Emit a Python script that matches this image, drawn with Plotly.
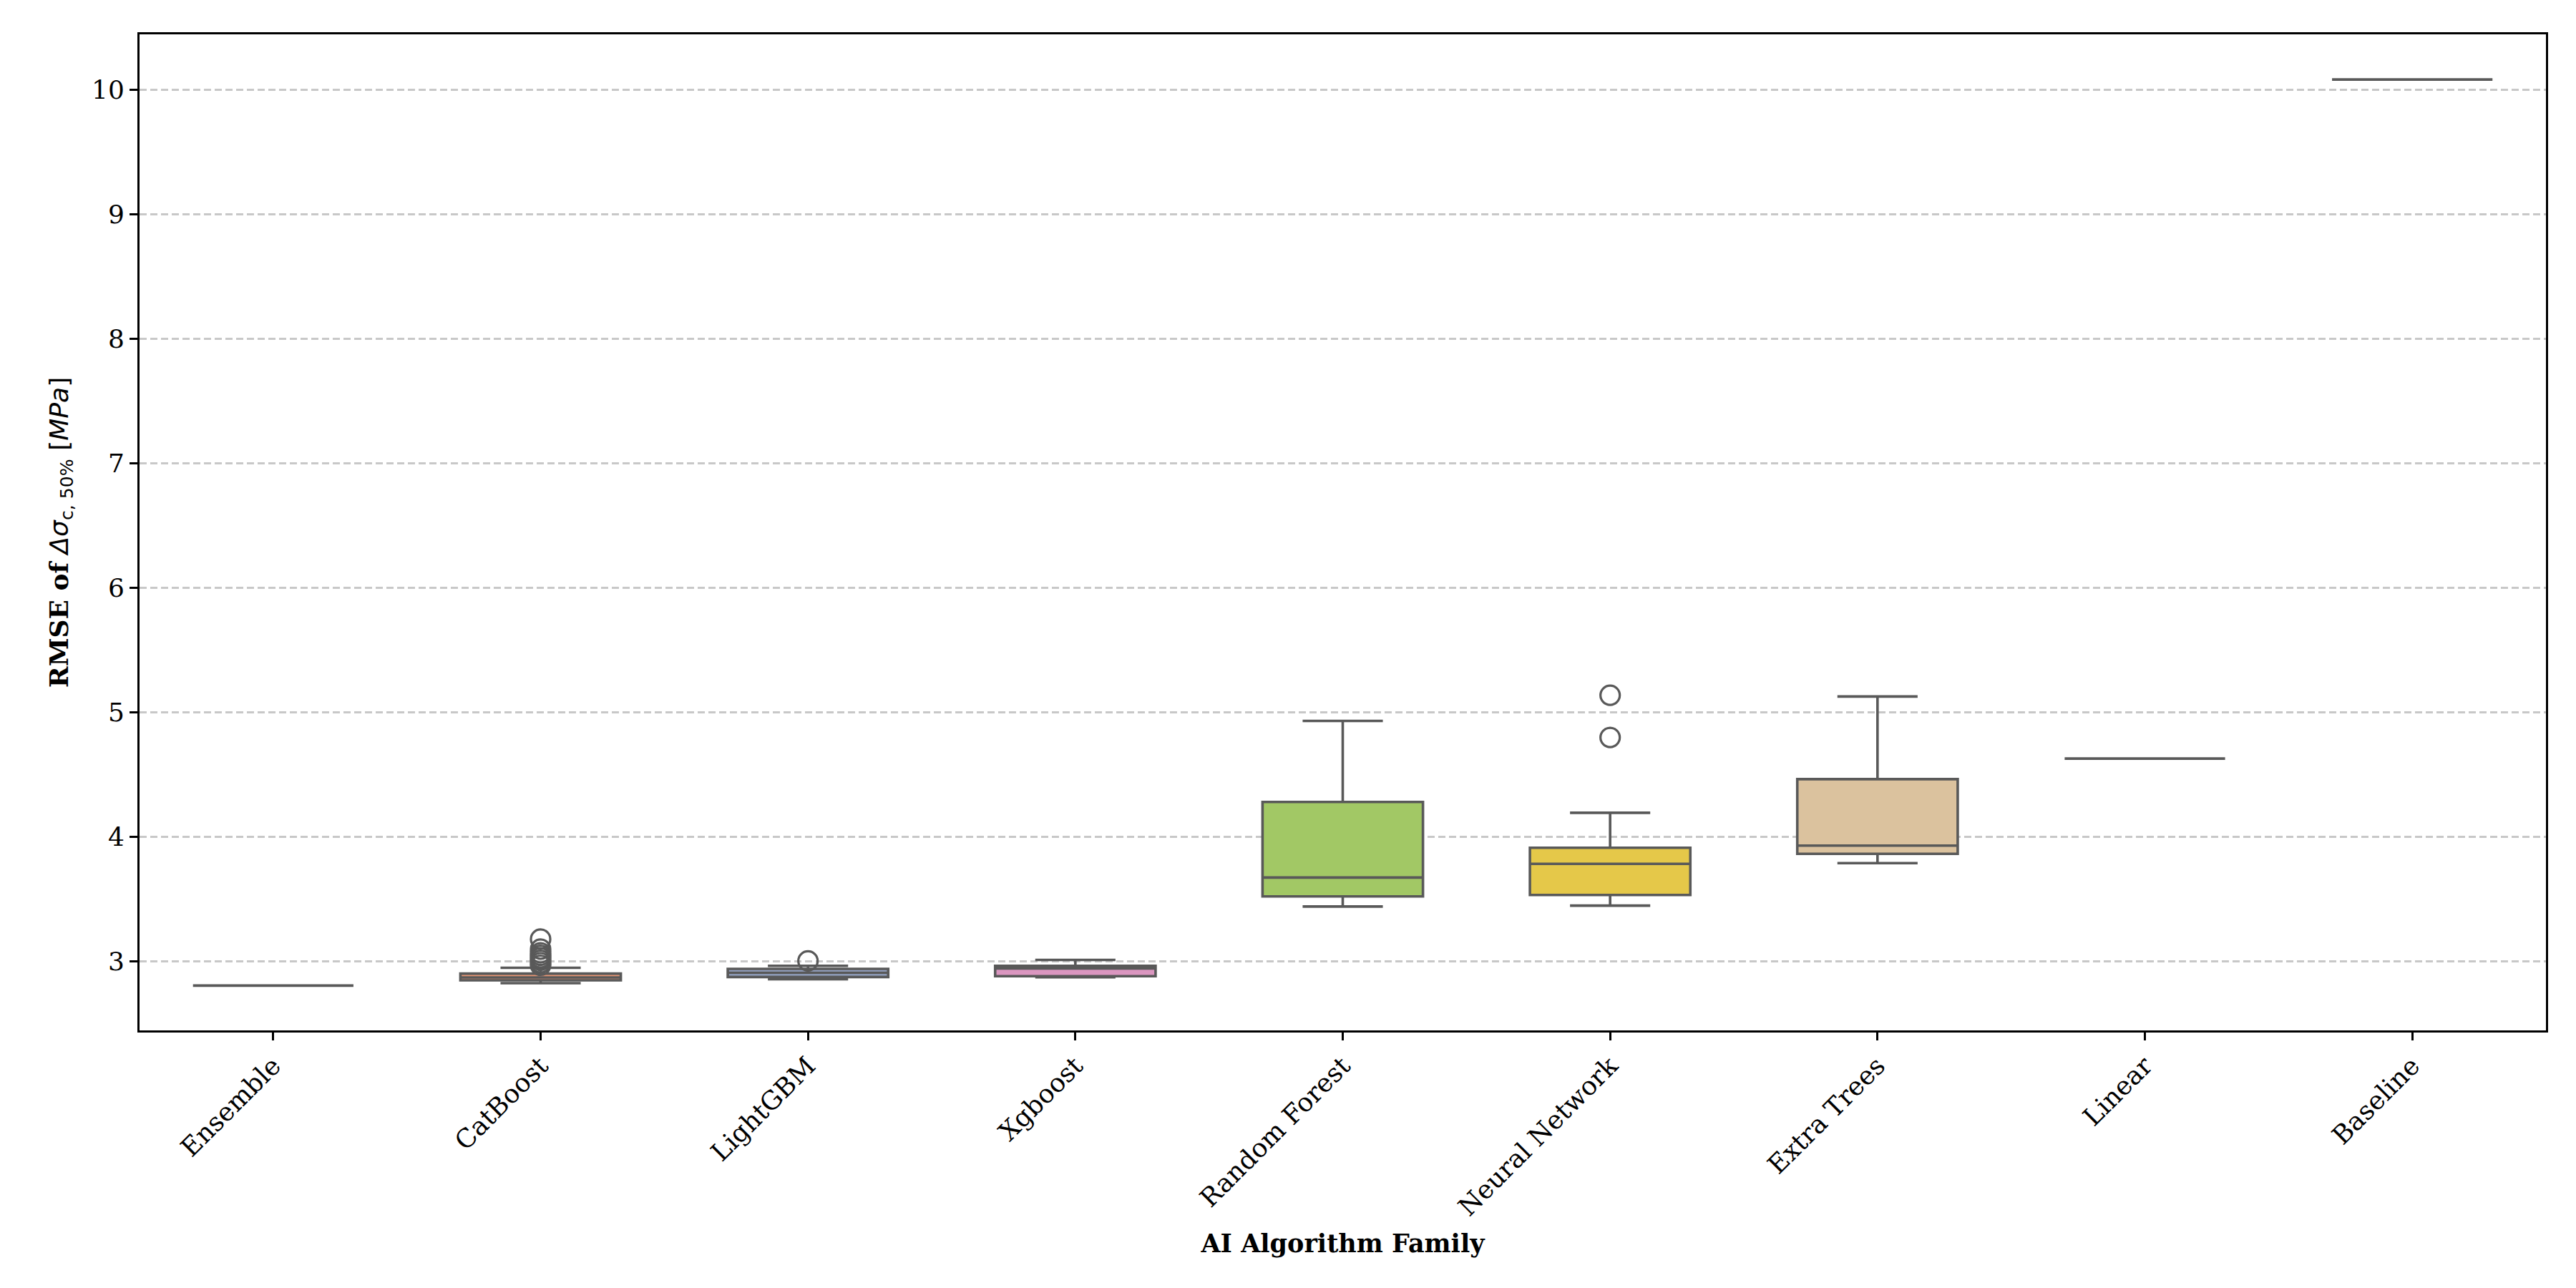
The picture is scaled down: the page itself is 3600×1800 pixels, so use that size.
import colorsys
import plotly.graph_objects as go

# ---------------- data ----------------
categories = ["Ensemble", "CatBoost", "LightGBM", "Xgboost", "Random Forest",
              "Neural Network", "Extra Trees", "Linear", "Baseline"]
q1 = [2.807, 2.849, 2.876, 2.882, 3.523, 3.535, 3.865, 4.630, 10.084]
median = [2.807, 2.872, 2.910, 2.945, 3.675, 3.785, 3.931, 4.630, 10.084]
q3 = [2.807, 2.903, 2.941, 2.966, 4.282, 3.914, 4.465, 4.630, 10.084]
lower_whisker = [2.807, 2.826, 2.858, 2.874, 3.442, 3.449, 3.790, 4.630, 10.084]
upper_whisker = [2.807, 2.950, 2.966, 3.013, 4.933, 4.195, 5.129, 4.630, 10.084]

outlier_cat = ["CatBoost"] * 8 + ["LightGBM"] + ["Neural Network"] * 2
outlier_val = [3.18, 3.10, 3.07, 3.05, 3.03, 3.01, 2.99, 2.97, 3.005, 5.139, 4.800]

yticks = [3, 4, 5, 6, 7, 8, 9, 10]

# ---------------- style ----------------
set2 = ["#66c2a5", "#fc8d62", "#8da0cb", "#e78ac3", "#a6d854",
        "#ffd92f", "#e5c494", "#b3b3b3"]


def desat(hexc, prop=0.75):
    r, g, b = (int(hexc[i:i + 2], 16) / 255 for i in (1, 3, 5))
    h, l, s = colorsys.rgb_to_hls(r, g, b)
    r, g, b = colorsys.hls_to_rgb(h, l, s * prop)
    return "#%02x%02x%02x" % (round(r * 255), round(g * 255), round(b * 255))


line_col = "#595959"
serif = "DejaVu Serif"
fs = 36

fig = go.Figure()
for i, cat in enumerate(categories):
    fig.add_trace(go.Box(
        x=[cat], q1=[q1[i]], median=[median[i]], q3=[q3[i]],
        lowerfence=[lower_whisker[i]], upperfence=[upper_whisker[i]],
        fillcolor=desat(set2[i % len(set2)]),
        line=dict(color=line_col, width=3.6),
        width=0.6, whiskerwidth=0.5, boxpoints=False,
        showlegend=False, hoverinfo="skip",
    ))

fig.add_trace(go.Scatter(
    x=outlier_cat, y=outlier_val, mode="markers",
    marker=dict(symbol="circle-open", size=27, color=line_col,
                line=dict(width=3.2, color=line_col)),
    showlegend=False, hoverinfo="skip",
))

ytitle = ("<b>RMSE of</b> <span style='font-family:DejaVu Sans'>"
          "<i>Δσ</i><sub>c, 50%</sub> [<i>MPa</i>]</span>")

fig.update_layout(
    width=3600, height=1800,
    paper_bgcolor="white", plot_bgcolor="white",
    margin=dict(l=187, r=50, t=40, b=368),
    font=dict(family=serif, size=fs, color="black"),
    boxmode="overlay",
    xaxis=dict(
        type="category", categoryorder="array", categoryarray=categories,
        range=[-0.5, 8.5], showgrid=False,
        showline=True, linecolor="black", linewidth=3, mirror=True,
        ticks="outside", ticklen=11, tickwidth=2.5, tickcolor="black",
        tickangle=-45, tickfont=dict(family=serif, size=fs),
        title=dict(text="<b>AI Algorithm Family</b>", standoff=20,
                   font=dict(family=serif, size=35)),
        zeroline=False,
    ),
    yaxis=dict(
        range=[2.447, 10.447], tickvals=yticks,
        showgrid=True, gridcolor="#c8c8c8", gridwidth=2.5, griddash="10px,5px",
        showline=True, linecolor="black", linewidth=3, mirror=True,
        ticks="outside", ticklen=11, tickwidth=2.5, tickcolor="black",
        tickfont=dict(family=serif, size=fs),
        title=dict(text=ytitle, standoff=22, font=dict(family=serif, size=fs)),
        zeroline=False,
    ),
)

fig.write_html("out.html")
